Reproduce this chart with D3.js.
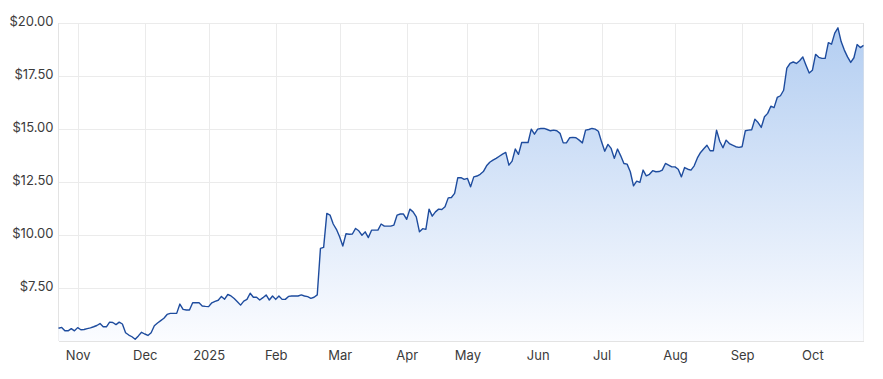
<!DOCTYPE html>
<html>
<head>
<meta charset="utf-8">
<script src="https://cdn.jsdelivr.net/npm/d3@7"></script>
<style>
	html, body { margin: 0; padding: 0; background: #fff; }
	svg text { font-family: Inter, "Noto Sans", sans-serif; font-size: 13px; fill: #3b3b3b; }
	.grid line { stroke: #ebebeb; shape-rendering: crispEdges; }
	.grid path { display: none; }
</style>
</head>
<body>
<svg id="chart"></svg>
<script>
// closing prices, one array per month of trading days (Oct 24 2024 .. Oct 23 2025)
var monthNames = ['Oct', 'Nov', 'Dec', '2025', 'Feb', 'Mar', 'Apr', 'May', 'Jun', 'Jul', 'Aug', 'Sep', 'Oct'];
var oct24 = [5.60, 5.64, 5.48, 5.48, 5.58, 5.48];
var nov24 = [5.63, 5.53, 5.54, 5.58, 5.62, 5.67, 5.73, 5.82, 5.67, 5.67, 5.89, 5.87, 5.77, 5.89, 5.80, 5.39, 5.28, 5.20, 5.08, 5.24, 5.41];
var dec24 = [5.33, 5.26, 5.39, 5.72, 5.85, 5.96, 6.07, 6.25, 6.30, 6.30, 6.30, 6.74, 6.49, 6.46, 6.46, 6.80, 6.80, 6.80, 6.65, 6.63];
var jan25 = [6.62, 6.80, 6.87, 6.92, 7.10, 6.97, 7.19, 7.12, 7.00, 6.85, 6.69, 6.88, 6.96, 7.25, 7.06, 7.06, 6.93, 7.04, 7.17, 6.93, 7.12];
var feb25 = [6.96, 7.12, 6.96, 6.96, 7.10, 7.12, 7.12, 7.12, 7.17, 7.12, 7.09, 7.01, 7.06, 7.17, 9.36, 9.41, 11.01, 10.93, 10.51, 10.26];
var mar25 = [9.91, 9.47, 10.05, 10.03, 10.04, 10.30, 10.19, 9.98, 10.14, 9.87, 10.22, 10.22, 10.22, 10.51, 10.41, 10.41, 10.41, 10.46, 10.93, 10.98, 10.98];
var apr25 = [10.73, 11.21, 11.08, 10.85, 10.14, 10.29, 10.26, 11.21, 10.88, 11.08, 11.21, 11.19, 11.32, 11.74, 11.76, 11.95, 12.69, 12.69, 12.61];
var may25 = [12.66, 12.26, 12.73, 12.77, 12.85, 12.98, 13.25, 13.42, 13.52, 13.60, 13.70, 13.80, 13.88, 13.28, 13.47, 14.04, 13.79, 14.35, 14.35, 14.35, 14.98, 14.74];
var jun25 = [14.98, 15.01, 15.01, 14.96, 14.90, 14.93, 14.90, 14.78, 14.33, 14.33, 14.57, 14.59, 14.57, 14.46, 14.33, 14.93, 14.96, 15.01, 14.98, 14.88];
var jul25 = [14.38, 13.94, 14.26, 14.07, 13.60, 14.04, 13.72, 13.36, 13.33, 12.97, 12.31, 12.53, 12.47, 13.05, 12.78, 12.85, 13.02, 12.97, 12.98, 13.05, 13.36, 13.28, 13.20];
var aug25 = [13.20, 13.09, 12.73, 13.17, 13.09, 13.05, 13.25, 13.62, 13.88, 14.05, 14.22, 13.96, 13.96, 14.93, 14.41, 14.10, 14.46, 14.30, 14.22, 14.15, 14.12];
var sep25 = [14.15, 14.90, 14.93, 14.95, 15.45, 15.29, 15.06, 15.56, 15.72, 16.06, 15.99, 16.47, 16.55, 16.81, 17.85, 18.07, 18.14, 18.07, 18.20, 18.38, 17.99, 17.62];
var oct25 = [17.75, 18.50, 18.36, 18.31, 18.31, 19.05, 18.98, 19.50, 19.75, 19.10, 18.70, 18.38, 18.12, 18.34, 18.96, 18.82, 18.92];
var yTicks = [7.5, 10, 12.5, 15, 17.5, 20];

window.onload = function init() {
	'use strict';

	var width = 883,
		height = 379,
		margin = {top: 22.5, right: 19.5, bottom: 38, left: 58.5},
		months = [oct24, nov24, dec24, jan25, feb25, mar25, apr25, may25, jun25, jul25, aug25, sep25, oct25],
		prices = [].concat.apply([], months),
		svg = d3.select('svg#chart').attr('width', width).attr('height', height),
		x = d3.scaleLinear().domain([0, prices.length - 1]).range([margin.left, width - margin.right]),
		y = d3.scaleLinear().domain([5, 20]).range([height - margin.bottom, margin.top]);

	// month start positions (in trading days) for the x ticks
	var monthStarts = [], offset = 0;
	months.forEach(function(m, i) {
		if (i > 0) monthStarts.push({i: offset, label: monthNames[i]});
		offset += m.length;
	});

	var grad = svg.append('defs').append('linearGradient')
		.attr('id', 'fill')
		.attr('gradientUnits', 'userSpaceOnUse')
		.attr('x1', 0).attr('x2', 0)
		.attr('y1', margin.top).attr('y2', height - margin.bottom);
	grad.append('stop').attr('offset', '0%').attr('stop-color', '#b2cdf1');
	grad.append('stop').attr('offset', '100%').attr('stop-color', '#fbfcff');

	// horizontal gridlines + labels
	svg.append('g')
		.attr('class', 'grid')
		.attr('transform', 'translate(' + margin.left + ',0)')
		.call(d3.axisLeft(y).tickValues(yTicks).tickSize(-(width - margin.left - margin.right)).tickPadding(5)
			.tickFormat(function(d) { return '$' + d.toFixed(2); }))
		.selectAll('text').attr('dy', '0.2em');

	// vertical gridlines + month labels
	svg.append('g')
		.attr('class', 'grid')
		.attr('transform', 'translate(0,' + (height - margin.bottom) + ')')
		.call(d3.axisBottom(x).tickValues(monthStarts.map(function(d) { return d.i; }))
			.tickSize(-(height - margin.top - margin.bottom)).tickPadding(7)
			.tickFormat(function(d, k) { return monthStarts[k].label; }))
		.selectAll('text').attr('dy', '0.9em');

	// frame
	var frame = svg.append('g').attr('class', 'grid');
	[[margin.left, margin.left, margin.top, height - margin.bottom],
		[width - margin.right, width - margin.right, margin.top, height - margin.bottom],
		[margin.left, width - margin.right, height - margin.bottom, height - margin.bottom]].forEach(function(s) {
		frame.append('line').attr('x1', s[0]).attr('x2', s[1]).attr('y1', s[2]).attr('y2', s[3])
			.style('stroke', '#e3e3e3');
	});

	var area = d3.area()
		.x(function(d, i) { return x(i); })
		.y0(y(5))
		.y1(function(d) { return y(d); });

	var line = d3.line()
		.x(function(d, i) { return x(i); })
		.y(function(d) { return y(d); });

	svg.append('path')
		.datum(prices)
		.attr('d', area)
		.attr('fill', 'url(#fill)');

	svg.append('path')
		.datum(prices)
		.attr('d', line)
		.attr('fill', 'none')
		.attr('stroke', '#1e4c9e')
		.attr('stroke-width', 1.4)
		.attr('stroke-linejoin', 'round');
};
</script>
</body>
</html>
